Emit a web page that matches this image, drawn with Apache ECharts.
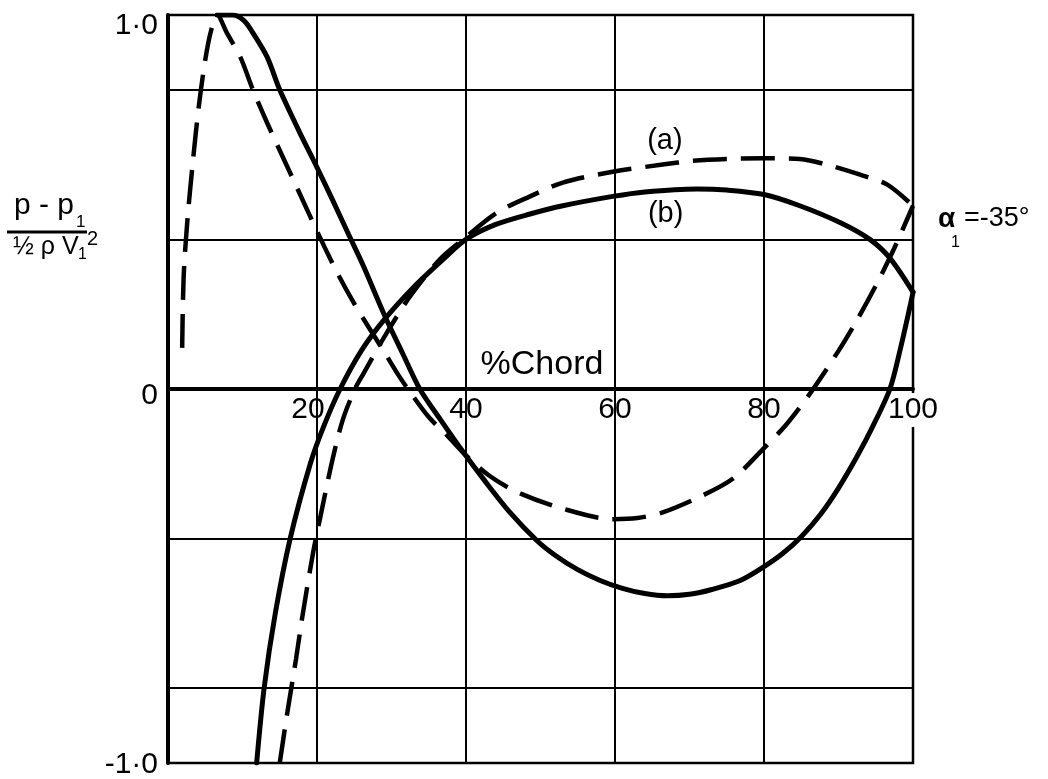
<!DOCTYPE html>
<html>
<head>
<meta charset="utf-8">
<script src="https://cdn.jsdelivr.net/npm/echarts@6/dist/echarts.min.js"></script>
<style>
  html, body { margin: 0; padding: 0; background: #fff; }
  #chart { width: 1048px; height: 779px; }
</style>
</head>
<body>
<div id="chart"></div>
<script>
// Pressure distribution over the blade chord, inlet angle -35 deg.
// Condition (a) dashed, condition (b) solid; each has two surfaces.

// x: % chord, y: (p - p1) / (1/2 rho V1^2)
const xS1 = [6.6, 8.7, 10.2, 11.4, 13.3, 15.0, 17.7, 19.5, 22.1, 24.2, 26.2, 29.0, 31.5, 33.8, 36.5, 39.6, 42.5, 45.9, 49.5, 52.0, 55.0, 58.0, 61.0, 64.0, 67.0, 70.0, 73.0, 76.8, 80.0, 82.5, 85.0, 87.6, 90.0, 92.5, 94.6, 96.9, 98.3, 99.6, 100];
const yS1 = [1.0, 1.0, 0.985, 0.952, 0.888, 0.80, 0.685, 0.613, 0.505, 0.415, 0.33, 0.20, 0.095, 0.0, -0.08, -0.168, -0.245, -0.33, -0.405, -0.445, -0.483, -0.512, -0.533, -0.547, -0.553, -0.549, -0.536, -0.512, -0.475, -0.44, -0.395, -0.335, -0.265, -0.18, -0.10, 0.0, 0.107, 0.221, 0.259];

const xS2 = [11.9, 12.9, 14.4, 16.4, 19.1, 20.9, 23.1, 26.0, 29.0, 33.0, 37.0, 40.0, 44.0, 48.6, 53.0, 59.7, 64.0, 71.0, 75.0, 80.0, 84.8, 90.2, 94.2, 96.9, 100];
const yS2 = [-1.0, -0.80, -0.60, -0.40, -0.20, -0.10, 0.0, 0.104, 0.185, 0.273, 0.348, 0.40, 0.44, 0.468, 0.49, 0.515, 0.527, 0.535, 0.532, 0.52, 0.49, 0.445, 0.40, 0.35, 0.259];

const xD1 = [1.9, 2.1, 2.6, 3.3, 4.1, 5.0, 5.8, 6.6, 7.9, 9.7, 11.4, 13.3, 16.0, 19.1, 21.0, 23.0, 25.0, 27.0, 29.0, 31.0, 32.2, 35.0, 37.5, 39.6, 43.0, 46.8, 53.0, 59.7, 63.0, 66.4, 71.4, 75.8, 79.9, 83.0, 86.0, 90.0, 92.5, 95.0, 97.5, 100];
const yD1 = [0.11, 0.30, 0.45, 0.60, 0.75, 0.88, 0.96, 1.0, 0.952, 0.888, 0.80, 0.712, 0.595, 0.461, 0.38, 0.30, 0.228, 0.163, 0.10, 0.035, 0.0, -0.075, -0.125, -0.17, -0.23, -0.275, -0.32, -0.348, -0.345, -0.33, -0.288, -0.24, -0.16, -0.095, -0.017, 0.102, 0.185, 0.276, 0.377, 0.49];

const xD2 = [15.0, 15.9, 17.2, 18.0, 19.5, 20.4, 22.1, 23.5, 25.1, 26.2, 29.0, 32.5, 36.5, 39.6, 44.2, 48.6, 53.0, 59.7, 66.4, 70.5, 75.0, 80.0, 84.8, 89.3, 92.9, 96.5, 100];
const yD2 = [-1.0, -0.88, -0.72, -0.613, -0.435, -0.347, -0.187, -0.08, 0.0, 0.04, 0.138, 0.248, 0.347, 0.40, 0.472, 0.515, 0.552, 0.581, 0.60, 0.61, 0.615, 0.617, 0.615, 0.595, 0.573, 0.547, 0.49];

// grid lines and tick labels
const xGridLines = [20, 40, 60, 80];
const yGridLines = [-0.8, -0.4, 0.4, 0.8];
const yTickLabels = { '1': '1·0', '0': '0', '-1': '-1·0' };

// curve annotations: [x, y, text, font size]
const curveNotes = [[66.7, 0.664, '(a)', 29], [66.8, 0.469, '(b)', 29], [50.2, 0.064, '%Chord', 34]];

const FONT = '"Liberation Sans", Arial, sans-serif';
const zip = (xs, ys) => xs.map((x, i) => [x, ys[i]]);

const GRID = { left: 168, right: 135, top: 15, bottom: 16 };
const plotHeight = 779 - GRID.top - GRID.bottom;

const chart = echarts.init(document.getElementById('chart'), null, { renderer: 'canvas' });

const solidStyle = { color: '#000', width: 5, type: 'solid', cap: 'round' };
const dashStyle = { color: '#000', width: 4.5, type: [34, 14], cap: 'butt' };

function curve(name, data, lineStyle, extra) {
  return Object.assign({
    name: name,
    type: 'line',
    data: data,
    showSymbol: false,
    symbol: 'none',
    smooth: 0.3,
    lineStyle: lineStyle,
    z: 3,
    silent: true
  }, extra || {});
}

chart.setOption({
  animation: false,
  backgroundColor: '#fff',
  grid: Object.assign({
    outerBoundsMode: 'none',
    containLabel: false,
    show: true, borderColor: '#000', borderWidth: 2.5, backgroundColor: 'transparent'
  }, GRID),
  xAxis: {
    type: 'value', min: 0, max: 100, interval: 20, z: 2,
    position: 'bottom',
    // the chord axis sits on the zero pressure line, half-way up the plot
    offset: -plotHeight / 2,
    axisLine: { show: true, onZero: false, lineStyle: { color: '#000', width: 4 } },
    axisTick: { show: false },
    splitLine: { show: false },
    axisLabel: {
      margin: 4,
      color: '#000',
      fontFamily: FONT,
      fontSize: 30,
      backgroundColor: '#fff',
      padding: [2, 2, 2, 2],
      formatter: v => v === 0 ? '' : (v === 20 ? '{l|20}' : '{n|' + v + '}'),
      rich: {
        n: { fontFamily: FONT, fontSize: 30, color: '#000' },
        l: { fontFamily: FONT, fontSize: 30, color: '#000', padding: [0, 18, 0, 0] }
      }
    }
  },
  yAxis: {
    type: 'value', min: -1, max: 1, interval: 1, z: 2,
    axisLine: { show: true, onZero: false, lineStyle: { color: '#000', width: 4 } },
    axisTick: { show: false },
    splitLine: { show: false },
    axisLabel: {
      margin: 10,
      color: '#000',
      fontFamily: FONT,
      fontSize: 30,
      formatter: v => {
        const t = yTickLabels[String(v)];
        if (v === 1) return '{t|' + t + '}';
        if (v === 0) return '{z|' + t + '}';
        return '{b|' + t + '}';
      },
      rich: {
        t: { fontFamily: FONT, fontSize: 30, color: '#000', padding: [22, 0, 0, 0] },
        z: { fontFamily: FONT, fontSize: 30, color: '#000', padding: [14, 0, 0, 0] },
        b: { fontFamily: FONT, fontSize: 30, color: '#000', padding: [4, 0, 0, 0] }
      }
    }
  },
  series: [
    {
      name: 'grid',
      type: 'line',
      data: [],
      symbol: 'none',
      z: 1,
      silent: true,
      markLine: {
        silent: true,
        symbol: ['none', 'none'],
        label: { show: false },
        lineStyle: { color: '#000', width: 2, type: 'solid' },
        data: xGridLines.map(v => ({ xAxis: v })).concat(yGridLines.map(v => ({ yAxis: v })))
      }
    },
    curve('S1', zip(xS1, yS1), solidStyle),
    curve('S2', zip(xS2, yS2), solidStyle),
    curve('D1', zip(xD1, yD1), dashStyle),
    curve('D2', zip(xD2, yD2), dashStyle, {
      markPoint: {
        silent: true,
        symbol: 'circle',
        symbolSize: 1,
        itemStyle: { color: 'rgba(0,0,0,0)' },
        data: curveNotes.map(n => ({
          name: n[2],
          coord: [n[0], n[1]],
          label: {
            show: true, position: 'inside', color: '#000',
            fontFamily: FONT, fontSize: n[3],
            formatter: p => p.name
          }
        }))
      }
    })
  ],
  graphic: [
    // y-axis quantity as a fraction
    { type: 'text', x: 14, y: 221, z: 10,
      style: { text: 'p - p', font: '30px ' + FONT, fill: '#000', align: 'left', verticalAlign: 'bottom', textAlign: 'left', textVerticalAlign: 'bottom' } },
    { type: 'text', x: 76, y: 231, z: 10,
      style: { text: '1', font: '17px ' + FONT, fill: '#000', align: 'left', verticalAlign: 'bottom', textAlign: 'left', textVerticalAlign: 'bottom' } },
    { type: 'line', z: 10, shape: { x1: 7, y1: 232, x2: 87, y2: 232 }, style: { stroke: '#000', lineWidth: 3 } },
    { type: 'text', x: 13, y: 235, z: 10,
      style: { text: '½ ρ V', font: '25px ' + FONT, fill: '#000', align: 'left', verticalAlign: 'top', textAlign: 'left', textVerticalAlign: 'top' } },
    { type: 'text', x: 78, y: 247, z: 10,
      style: { text: '1', font: '16px ' + FONT, fill: '#000', align: 'left', verticalAlign: 'top', textAlign: 'left', textVerticalAlign: 'top' } },
    { type: 'text', x: 87, y: 229, z: 10,
      style: { text: '2', font: '20px ' + FONT, fill: '#000', align: 'left', verticalAlign: 'top', textAlign: 'left', textVerticalAlign: 'top' } },
    // inlet angle
    { type: 'text', x: 938, y: 219, z: 10,
      style: { text: 'α', font: 'bold 28px ' + FONT, fill: '#000', align: 'left', verticalAlign: 'middle', textAlign: 'left', textVerticalAlign: 'middle' } },
    { type: 'text', x: 951, y: 243, z: 10,
      style: { text: '1', font: '16px ' + FONT, fill: '#000', align: 'left', verticalAlign: 'middle', textAlign: 'left', textVerticalAlign: 'middle' } },
    { type: 'text', x: 964, y: 219, z: 10,
      style: { text: '=-35°', font: '27px ' + FONT, fill: '#000', align: 'left', verticalAlign: 'middle', textAlign: 'left', textVerticalAlign: 'middle' } }
  ]
});
</script>
</body>
</html>
